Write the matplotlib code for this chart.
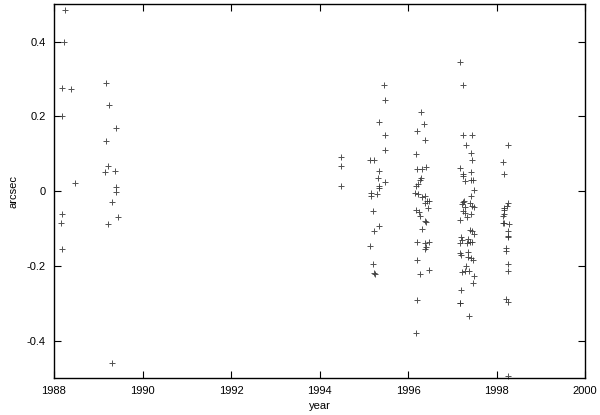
import matplotlib
matplotlib.use("Agg")
from matplotlib import pyplot as plt

plt.rcParams['font.family'] = ['Liberation Sans', 'DejaVu Sans']
plt.rcParams['axes.unicode_minus'] = False

# epoch 1988
years_1988 = [1988.25, 1988.23, 1988.18, 1988.38, 1988.18, 1988.47, 1988.18, 1988.16, 1988.18]
vals_1988 = [0.485, 0.40, 0.275, 0.272, 0.20, 0.023, -0.06, -0.085, -0.155]

# epoch 1989
years_1989 = [1989.17, 1989.24, 1989.39, 1989.17, 1989.23, 1989.15, 1989.37, 1989.39, 1989.40,
              1989.32, 1989.45, 1989.23, 1989.30]
vals_1989 = [0.29, 0.229, 0.169, 0.135, 0.067, 0.05, 0.054, 0.011, -0.002,
             -0.029, -0.068, -0.089, -0.461]

# epoch 1994.5
years_1994 = [1994.49, 1994.49, 1994.49]
vals_1994 = [0.090, 0.067, 0.013]

# epoch 1995
years_1995 = [1995.14, 1995.24, 1995.46, 1995.48, 1995.34, 1995.49, 1995.48, 1995.34, 1995.32,
              1995.47, 1995.35, 1995.34, 1995.16, 1995.16, 1995.30, 1995.22, 1995.34, 1995.24,
              1995.15, 1995.22, 1995.24, 1995.26]
vals_1995 = [0.083, 0.083, 0.283, 0.243, 0.184, 0.151, 0.109, 0.054, 0.036,
             0.025, 0.013, 0.007, -0.006, -0.013, -0.009, -0.052, -0.093, -0.108,
             -0.148, -0.196, -0.219, -0.221]

# epoch 1996
years_1996 = [1996.29, 1996.37, 1996.21, 1996.39, 1996.17, 1996.21, 1996.32, 1996.41, 1996.29,
              1996.27, 1996.22, 1996.18, 1996.15, 1996.22, 1996.31, 1996.38, 1996.42, 1996.47,
              1996.39, 1996.46, 1996.17, 1996.25, 1996.28, 1996.39, 1996.40, 1996.31, 1996.20,
              1996.38, 1996.48, 1996.39, 1996.40, 1996.20, 1996.28, 1996.48, 1996.21, 1996.19]
vals_1996 = [0.211, 0.180, 0.160, 0.136, 0.100, 0.058, 0.060, 0.064, 0.036,
             0.029, 0.019, 0.014, -0.006, -0.009, -0.015, -0.013, -0.026, -0.026,
             -0.033, -0.046, -0.051, -0.055, -0.066, -0.079, -0.083, -0.102, -0.135,
             -0.138, -0.136, -0.154, -0.150, -0.184, -0.221, -0.211, -0.291, -0.379]

# epoch 1997
years_1997 = [1997.17, 1997.24, 1997.25, 1997.44, 1997.32, 1997.43, 1997.44, 1997.18, 1997.24,
              1997.25, 1997.42, 1997.46, 1997.43, 1997.28, 1997.50, 1997.42, 1997.24, 1997.27,
              1997.23, 1997.39, 1997.44, 1997.50, 1997.28, 1997.25, 1997.29, 1997.42, 1997.34,
              1997.17, 1997.39, 1997.44, 1997.50, 1997.19, 1997.22, 1997.17, 1997.36, 1997.39,
              1997.44, 1997.33, 1997.18, 1997.20, 1997.35, 1997.36, 1997.42, 1997.46, 1997.30,
              1997.21, 1997.28, 1997.38, 1997.50, 1997.46, 1997.19, 1997.17, 1997.18, 1997.38]
vals_1997 = [0.344, 0.285, 0.149, 0.149, 0.123, 0.102, 0.084, 0.062, 0.045,
             0.040, 0.051, 0.031, 0.029, 0.028, 0.003, -0.012, -0.030, -0.026,
             -0.035, -0.033, -0.039, -0.043, -0.043, -0.052, -0.058, -0.060, -0.070,
             -0.077, -0.104, -0.108, -0.115, -0.122, -0.131, -0.139, -0.129, -0.135,
             -0.135, -0.138, -0.166, -0.170, -0.164, -0.175, -0.180, -0.184, -0.200,
             -0.217, -0.214, -0.215, -0.227, -0.245, -0.264, -0.298, -0.300, -0.335]

# epoch 1998
years_1998 = [1998.27, 1998.14, 1998.18, 1998.27, 1998.24, 1998.17, 1998.16, 1998.17, 1998.14,
              1998.17, 1998.14, 1998.28, 1998.27, 1998.26, 1998.27, 1998.22, 1998.22, 1998.26,
              1998.26, 1998.22, 1998.27, 1998.27]
vals_1998 = [0.123, 0.077, 0.047, -0.033, -0.039, -0.046, -0.051, -0.061, -0.067,
             -0.084, -0.086, -0.088, -0.107, -0.120, -0.124, -0.152, -0.159, -0.195,
             -0.214, -0.289, -0.296, -0.495]

xticks = [1988, 1990, 1992, 1994, 1996, 1998, 2000]
yticks = [-0.4, -0.2, 0, 0.2, 0.4]
ytick_labels = ['-0.4', '-0.2', '0', '0.2', '0.4']

years = (years_1988 + years_1989 + years_1994 + years_1995 + years_1996
         + years_1997 + years_1998)
vals = (vals_1988 + vals_1989 + vals_1994 + vals_1995 + vals_1996
        + vals_1997 + vals_1998)

fig = plt.figure(figsize=(6.0, 4.15), dpi=100)
ax = fig.add_axes([0.09, 0.089, 0.885, 0.901])

ax.plot(years, vals, linestyle='none', marker='+', markersize=5,
        markeredgewidth=0.7, color='#333333', alpha=0.85, clip_on=False)

ax.set_xlim(1988, 2000)
ax.set_ylim(-0.5, 0.5)
ax.set_xticks(xticks)
ax.set_xticklabels([str(t) for t in xticks])
ax.set_yticks(yticks)
ax.set_yticklabels(ytick_labels)
ax.tick_params(direction='in', length=5, width=0.8, labelsize=8,
               top=True, right=True, pad=6)
for spine in ax.spines.values():
    spine.set_linewidth(1.0)

ax.set_xlabel('year', fontsize=8, labelpad=3)
ax.set_ylabel('arcsec', fontsize=8, labelpad=6)

fig.savefig('out.png', dpi=100)
